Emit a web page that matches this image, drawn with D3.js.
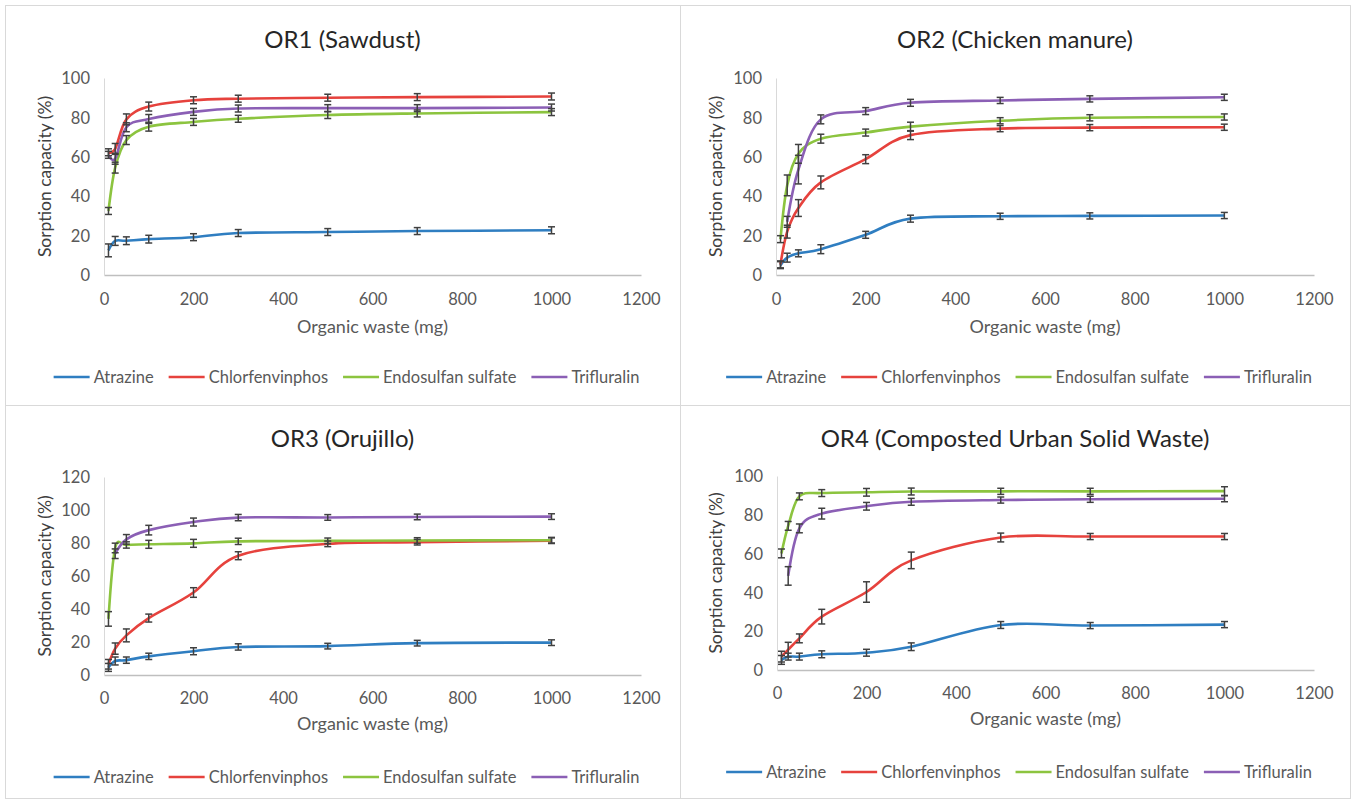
<!DOCTYPE html>
<html>
<head>
<meta charset="utf-8">
<script src="https://cdn.jsdelivr.net/npm/d3@7"></script>
<style>
  body { margin: 0; background: #fff; }
  svg text { font-family: Lato, "Open Sans", sans-serif; fill: #595959; }
</style>
</head>
<body>
<div id="chart"></div>
<script>
/***********************************************/
//                 DATA                        //
/***********************************************/

const doses = [10, 25, 50, 100, 200, 300, 500, 700, 1000];
const pesticides = ["Atrazine", "Chlorfenvinphos", "Endosulfan sulfate", "Trifluralin"];
const colors = ["#2f7ec1", "#e6423d", "#8cc43f", "#8b5fb5"];
const titles = ["OR1 (Sawdust)", "OR2 (Chicken manure)", "OR3 (Orujillo)", "OR4 (Composted Urban Solid Waste)"];
const xTicks = [0, 200, 400, 600, 800, 1000, 1200];

// sorption capacity (%) per pesticide, one row per pesticide
const or1Values = [
  [12.5, 17.3, 17.4, 18.2, 19.2, 21.3, 21.8, 22.3, 22.7],
  [62.3, 64.0, 79.0, 85.5, 88.7, 89.5, 90.0, 90.3, 90.6],
  [32.5, 54.5, 68.5, 75.3, 77.7, 79.3, 81.2, 82.0, 82.7],
  [61.0, 59.0, 75.0, 79.2, 82.8, 84.5, 84.7, 84.7, 85.0]
];
const or1Errors = [
  [2.5, 1.5, 1.2, 1.2, 1.0, 1.0, 1.0, 1.0, 1.0],
  [1.0, 2.0, 2.0, 1.5, 1.0, 1.0, 1.0, 1.0, 1.0],
  [1.0, 2.0, 1.5, 1.5, 1.0, 1.0, 1.0, 1.0, 1.0],
  [1.0, 2.0, 1.5, 1.5, 1.0, 1.0, 1.0, 1.0, 1.0]
];

const or2Values = [
  [5.0, 8.8, 11.0, 13.1, 20.4, 28.6, 29.8, 30.0, 30.2],
  [5.4, 22.0, 34.0, 47.0, 58.8, 71.0, 74.3, 74.8, 75.0],
  [18.2, 45.5, 61.5, 69.2, 72.3, 75.3, 78.3, 79.8, 80.2],
  [null, 27.0, 53.5, 79.0, 83.2, 87.4, 88.6, 89.4, 90.2]
];
const or2Errors = [
  [1.0, 1.5, 1.0, 1.5, 1.0, 1.0, 0.8, 0.8, 0.8],
  [1.0, 2.5, 3.5, 2.5, 1.5, 1.5, 0.8, 0.8, 0.8],
  [1.0, 4.5, 4.0, 1.5, 1.0, 1.5, 0.8, 0.8, 0.8],
  [0, 2.0, 6.5, 1.5, 1.0, 1.0, 0.8, 0.8, 0.8]
];

const or3Values = [
  [4.6, 8.5, 9.0, 11.3, 14.4, 17.0, 17.5, 19.3, 19.6],
  [6.5, 16.0, 24.0, 34.5, 50.0, 72.3, 79.5, 80.5, 81.4],
  [34.0, 77.0, 78.8, 79.2, 79.8, 81.0, 81.3, 81.5, 81.7],
  [null, 73.5, 82.2, 87.8, 92.7, 95.4, 95.5, 95.8, 96.0]
];
const or3Errors = [
  [1.5, 1.5, 1.0, 1.0, 1.2, 1.0, 0.8, 0.8, 0.8],
  [2.0, 2.5, 3.0, 1.5, 2.0, 1.5, 0.8, 0.8, 0.8],
  [3.5, 2.0, 1.0, 1.5, 1.5, 1.0, 0.8, 0.8, 0.8],
  [0, 2.0, 2.0, 2.0, 1.5, 1.0, 0.8, 0.8, 0.8]
];

const or4Values = [
  [5.2, 6.9, 6.9, 8.1, 8.9, 12.0, 23.2, 22.9, 23.4],
  [6.9, 10.5, 16.3, 27.5, 40.2, 56.5, 68.3, 68.8, 68.8],
  [60.1, 74.3, 89.5, 91.2, 91.6, 92.0, 92.1, 92.1, 92.2],
  [null, 48.5, 73.0, 80.6, 84.4, 86.7, 87.6, 88.0, 88.3]
];
const or4Errors = [
  [1.5, 1.0, 1.0, 1.0, 1.0, 1.2, 1.0, 0.8, 0.8],
  [2.0, 3.0, 1.5, 3.0, 4.5, 3.5, 1.5, 0.8, 0.8],
  [1.5, 1.5, 1.0, 1.0, 1.2, 1.0, 0.8, 0.8, 1.5],
  [0, 4.0, 1.5, 2.0, 1.2, 1.0, 0.8, 0.8, 0.8]
];

/***********************************************/
//                LAYOUT                       //
/***********************************************/

const W = 1354, H = 800;

const panels = [
  { title: titles[0], values: or1Values, errors: or1Errors, yMax: 100,
    box: [5, 5, 680, 405], left: 104, right: 641, top: 78, bottom: 275,
    titleY: 48, tickY: 305, xTitleY: 333, legendY: 377, yTitleX: 51 },
  { title: titles[1], values: or2Values, errors: or2Errors, yMax: 100,
    box: [680, 5, 1350, 405], left: 776, right: 1314, top: 78, bottom: 275,
    titleY: 48, tickY: 305, xTitleY: 333, legendY: 377, yTitleX: 722 },
  { title: titles[2], values: or3Values, errors: or3Errors, yMax: 120,
    box: [5, 405, 680, 798], left: 104, right: 641, top: 477, bottom: 675,
    titleY: 447, tickY: 704, xTitleY: 730, legendY: 777, yTitleX: 51 },
  { title: titles[3], values: or4Values, errors: or4Errors, yMax: 100,
    box: [680, 405, 1350, 798], left: 777, right: 1314, top: 476, bottom: 670,
    titleY: 447, tickY: 699, xTitleY: 725, legendY: 772, yTitleX: 722 }
];

const svg = d3.select("#chart")
  .append("svg")
    .attr("width", W)
    .attr("height", H);

svg.append("rect")
    .attr("width", W)
    .attr("height", H)
    .attr("fill", "#fff");

panels.forEach(function(p) {
  const g = svg.append("g");

  // panel frame
  g.append("rect")
      .attr("x", p.box[0] + 0.5)
      .attr("y", p.box[1] + 0.5)
      .attr("width", p.box[2] - p.box[0])
      .attr("height", p.box[3] - p.box[1])
      .attr("fill", "none")
      .attr("stroke", "#d9d9d9");

  const x = d3.scaleLinear().domain([0, 1200]).range([p.left, p.right]);
  const y = d3.scaleLinear().domain([0, p.yMax]).range([p.bottom, p.top]);

  // axes
  const xAxis = g.append("g")
      .attr("transform", `translate(0, ${p.bottom})`)
      .call(d3.axisBottom(x).tickValues(xTicks).tickFormat(d3.format("d")).tickSize(0).tickPadding(0));
  xAxis.select(".domain").attr("stroke", "#bfbfbf").attr("stroke-width", 1.5);
  xAxis.selectAll("text")
      .attr("y", p.tickY - p.bottom)
      .attr("dy", 0)
      .style("font-size", "16.5px")
      .style("fill", "#595959");

  const yAxis = g.append("g")
      .attr("transform", `translate(${p.left}, 0)`)
      .call(d3.axisLeft(y).ticks(p.yMax / 20).tickSize(0).tickPadding(14));
  yAxis.select(".domain").attr("stroke", "#d9d9d9").attr("stroke-width", 1);
  yAxis.selectAll("text")
      .attr("dy", "0.35em")
      .style("font-size", "16.5px")
      .style("fill", "#595959");

  // titles
  g.append("text")
      .attr("x", (p.box[0] + p.box[2]) / 2)
      .attr("y", p.titleY)
      .attr("text-anchor", "middle")
      .style("font-size", "24px")
      .style("fill", "#262626")
      .text(p.title);

  g.append("text")
      .attr("x", (p.left + p.right) / 2)
      .attr("y", p.xTitleY)
      .attr("text-anchor", "middle")
      .style("font-size", "18px")
      .text("Organic waste (mg)");

  g.append("text")
      .attr("transform", `translate(${p.yTitleX}, ${(p.top + p.bottom) / 2}) rotate(-90)`)
      .attr("text-anchor", "middle")
      .style("font-size", "17.5px")
      .style("fill", "#404040")
      .text("Sorption capacity (%)");

  // smoothed lines, like Excel
  const line = d3.line()
      .x(d => x(d[0]))
      .y(d => y(d[1]))
      .curve(d3.curveCardinal.tension(0));

  p.values.forEach(function(vals, i) {
    const pts = doses.map((d, j) => [d, vals[j]]).filter(d => d[1] != null);
    g.append("path")
        .datum(pts)
        .attr("d", line)
        .attr("fill", "none")
        .attr("stroke", colors[i])
        .attr("stroke-width", 2.6);
  });

  // error bars on top
  p.values.forEach(function(vals, i) {
    const bars = doses.map((d, j) => ({ x: d, v: vals[j], e: p.errors[i][j] }))
        .filter(d => d.v != null);
    const eb = g.append("g").selectAll("g")
      .data(bars)
      .join("g")
        .attr("stroke", "#404040")
        .attr("stroke-width", 1.5);
    eb.append("line")
        .attr("x1", d => x(d.x)).attr("x2", d => x(d.x))
        .attr("y1", d => y(d.v - d.e) + 1.5).attr("y2", d => y(d.v + d.e) - 1.5);
    eb.append("line")
        .attr("x1", d => x(d.x) - 3.5).attr("x2", d => x(d.x) + 3.5)
        .attr("y1", d => y(d.v - d.e) + 1.5).attr("y2", d => y(d.v - d.e) + 1.5);
    eb.append("line")
        .attr("x1", d => x(d.x) - 3.5).attr("x2", d => x(d.x) + 3.5)
        .attr("y1", d => y(d.v + d.e) - 1.5).attr("y2", d => y(d.v + d.e) - 1.5);
  });

  // legend
  const legend = g.append("g");
  let cx = 0;
  pesticides.forEach(function(name, i) {
    const item = legend.append("g").attr("transform", `translate(${cx}, 0)`);
    item.append("line")
        .attr("x1", 0).attr("x2", 36)
        .attr("y1", 0).attr("y2", 0)
        .attr("stroke", colors[i])
        .attr("stroke-width", 2.6);
    const t = item.append("text")
        .attr("x", 40)
        .attr("y", 0)
        .attr("dy", "0.35em")
        .style("font-size", "16.5px")
        .text(name);
    cx += 40 + t.node().getComputedTextLength() + 15;
  });
  const legendW = cx - 15;
  const cxPanel = (p.box[0] + p.box[2]) / 2 + 4;
  legend.attr("transform", `translate(${cxPanel - legendW / 2}, ${p.legendY})`);
});
</script>
</body>
</html>
